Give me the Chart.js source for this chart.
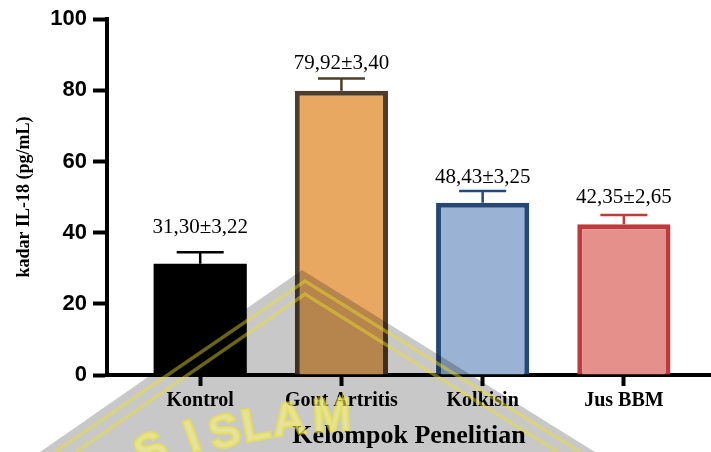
<!DOCTYPE html>
<html>
<head>
<meta charset="utf-8">
<script src="https://cdn.jsdelivr.net/npm/chart.js@4"></script>
<style>
  html, body { margin: 0; padding: 0; background: #fff; }
  canvas { display: block; }
</style>
</head>
<body>
<canvas id="c" width="711" height="452" style="width:711px;height:452px"></canvas>
<script>
// IL-18 levels per research group (mean ± SD, pg/mL)
const groups = ['Kontrol', 'Gout Artritis', 'Kolkisin', 'Jus BBM'];
const means = [31.30, 79.92, 48.43, 42.35];
const sds = [3.22, 3.40, 3.25, 2.65];
const yTicks = [0, 20, 40, 60, 80, 100];

const fills = ['#000000', '#E8A862', '#9AB2D3', '#E5908A'];
const edges = ['#000000', '#4D3D2C', '#254877', '#BF3A3A'];
const SERIF = '"Liberation Serif", "Times New Roman", serif';
const SANS = '"Liberation Sans", Arial, sans-serif';

const fmt = v => v.toFixed(2).replace('.', ',');

// Upper error whiskers plus the "mean±SD" caption above each bar
const errorBars = {
  id: 'errorBars',
  afterDatasetsDraw(chart, args, opts) {
    const { ctx } = chart;
    const y = chart.scales.y;
    const meta = chart.getDatasetMeta(0);
    meta.data.forEach((bar, i) => {
      const top = y.getPixelForValue(means[i] + sds[i]);
      ctx.save();
      ctx.strokeStyle = edges[i];
      ctx.lineWidth = opts.lineWidth;
      ctx.beginPath();
      ctx.moveTo(bar.x, bar.y);
      ctx.lineTo(bar.x, top);
      ctx.moveTo(bar.x - opts.capHalf, top);
      ctx.lineTo(bar.x + opts.capHalf, top);
      ctx.stroke();
      ctx.fillStyle = '#000';
      ctx.font = opts.font;
      ctx.textAlign = 'center';
      ctx.textBaseline = 'alphabetic';
      ctx.fillText(fmt(means[i]) + '\u00B1' + fmt(sds[i]), bar.x, top - opts.gaps[i]);
      ctx.restore();
    });
  }
};

// Faint university emblem stamped over the lower part of the figure
const emblem = {
  id: 'emblem',
  afterDraw(chart) {
    const ctx = chart.ctx;
    ctx.save();
    ctx.globalCompositeOperation = 'multiply';
    ctx.fillStyle = '#c8c8c8';
    ctx.beginPath();
    ctx.moveTo(302, 270);
    ctx.lineTo(595, 452);
    ctx.lineTo(40, 452);
    ctx.closePath();
    ctx.fill();
    ctx.restore();

    ctx.save();
    ctx.strokeStyle = 'rgba(235,225,40,0.45)';
    ctx.lineWidth = 3.5;
    ctx.lineJoin = 'miter';
    ctx.beginPath();
    ctx.moveTo(55, 452); ctx.lineTo(305, 281); ctx.lineTo(580, 452);
    ctx.moveTo(76, 452); ctx.lineTo(305, 294); ctx.lineTo(558, 452);
    ctx.stroke();

    ctx.font = 'bold 46px ' + SANS;
    ctx.textAlign = 'center';
    ctx.textBaseline = 'middle';
    ctx.lineWidth = 3;
    ctx.fillStyle = 'rgba(250,245,150,0.55)';
    ctx.strokeStyle = 'rgba(240,230,50,0.55)';
    const letters = [['S', 152, 452, -26], ['I', 193, 439, -20], ['S', 225, 434, -15],
                     ['L', 256, 427, -11], ['A', 289, 422, -7], ['M', 332, 418, -3]];
    letters.forEach(([ch, x, yy, r]) => {
      ctx.save();
      ctx.translate(x, yy);
      ctx.rotate(r * Math.PI / 180);
      ctx.fillText(ch, 0, 0);
      ctx.strokeText(ch, 0, 0);
      ctx.restore();
    });
    ctx.restore();
  }
};

new Chart(document.getElementById('c'), {
  type: 'bar',
  data: {
    datasets: [{
      data: means.map((m, i) => ({ x: i, y: m })),
      backgroundColor: fills,
      borderColor: edges,
      borderWidth: [0, 5, 5, 5],
      borderSkipped: 'start',
      barPercentage: 0.66,
      categoryPercentage: 1
    }]
  },
  options: {
    responsive: false,
    animation: false,
    devicePixelRatio: 1,
    layout: { padding: { top: 18, right: 0, bottom: 0, left: 0 } },
    plugins: {
      legend: { display: false },
      tooltip: { enabled: false },
      errorBars: { lineWidth: 2.5, capHalf: 23.5, font: '21px ' + SERIF, gaps: [19, 10, 8, 12] }
    },
    scales: {
      x: {
        type: 'linear',
        offset: false,
        min: -0.66,
        max: 3.617,
        afterBuildTicks: s => { s.ticks = groups.map((g, i) => ({ value: i })); },
        afterFit: s => { s.height = 77; },
        grid: { offset: false, drawOnChartArea: false, tickLength: 11, tickWidth: 4, tickColor: '#000' },
        border: { display: true, color: '#000', width: 4 },
        ticks: {
          autoSkip: false, maxRotation: 0, padding: 3, color: '#000',
          font: { family: SERIF, size: 20, weight: 'bold' },
          callback: v => groups[v]
        },
        title: {
          display: true, text: 'Kelompok Penelitian', color: '#000',
          font: { family: SERIF, size: 26, weight: 'bold' },
          padding: { top: 0, bottom: 0 }
        }
      },
      y: {
        min: 0,
        max: 100,
        afterBuildTicks: s => { s.ticks = yTicks.map(v => ({ value: v })); },
        afterFit: s => { s.width = 107; },
        grid: { drawOnChartArea: false, tickLength: 14, tickWidth: 4, tickColor: '#000' },
        border: { display: true, color: '#000', width: 4 },
        ticks: {
          padding: 6, color: '#000',
          font: { family: SANS, size: 22, weight: 'bold' }
        },
        title: {
          display: true, text: 'kadar IL-18 (pg/mL)', color: '#000',
          font: { family: SERIF, size: 18, weight: 'bold' },
          padding: { top: 14, bottom: 0 }
        }
      }
    }
  },
  plugins: [errorBars, emblem]
});
</script>
</body>
</html>
